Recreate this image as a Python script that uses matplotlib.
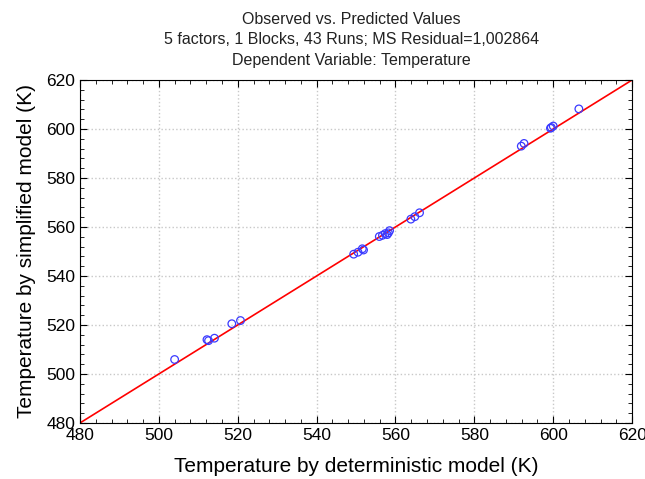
import matplotlib
matplotlib.use("Agg")
import matplotlib.pyplot as plt
from matplotlib.ticker import MultipleLocator

plt.rcParams['font.family'] = ['Liberation Sans', 'DejaVu Sans']

# deterministic (predicted) vs simplified model (observed)
det_temp = [504.0, 512.2, 512.6, 514.1, 518.5, 520.7, 549.4, 550.5, 551.6, 551.9,
            555.9, 556.7, 557.4, 557.9, 558.5, 558.2, 563.9, 564.9, 566.1,
            591.9, 592.6, 599.3, 599.5, 600.0, 606.5]
simp_temp = [505.9, 514.0, 513.6, 514.6, 520.5, 521.8, 548.9, 549.7, 551.1, 550.6,
             556.1, 556.6, 557.3, 556.9, 558.5, 557.6, 563.2, 564.2, 565.8,
             593.0, 594.1, 600.3, 600.6, 601.2, 608.2]
line_ends = [480, 620]

fig = plt.figure(figsize=(6.45, 4.79), dpi=100)
ax = fig.add_axes([0.124, 0.117, 0.856, 0.716])

ax.plot(line_ends, line_ends, color='red', lw=1.2, zorder=2)
ax.scatter(det_temp, simp_temp, s=30, facecolors='none', edgecolors='#3a3aff',
           linewidths=0.9, zorder=3)

ax.set_xlim(480, 620)
ax.set_ylim(480, 620)
ax.xaxis.set_major_locator(MultipleLocator(20))
ax.yaxis.set_major_locator(MultipleLocator(20))
ax.xaxis.set_minor_locator(MultipleLocator(4))
ax.yaxis.set_minor_locator(MultipleLocator(4))
ax.tick_params(which='both', direction='in', top=True, right=True, labelsize=12.5)
ax.tick_params(which='major', length=5)
ax.tick_params(which='minor', length=3)
ax.grid(True, which='major', color='#c8c8c8', linestyle=':', linewidth=1.0)
ax.set_axisbelow(True)
for s in ax.spines.values():
    s.set_linewidth(0.8)

ax.set_xlabel("Temperature by deterministic model (K)", fontsize=15, labelpad=10)
ax.set_ylabel("Temperature by simplified model (K)", fontsize=15, labelpad=7)

fig.text(0.545, 0.975, "Observed vs. Predicted Values\n"
         "5 factors, 1 Blocks, 43 Runs; MS Residual=1,002864\n"
         "Dependent Variable: Temperature",
         ha='center', va='top', fontsize=11.5, linespacing=1.45, color='#222222')

fig.savefig("out.png", dpi=100)
